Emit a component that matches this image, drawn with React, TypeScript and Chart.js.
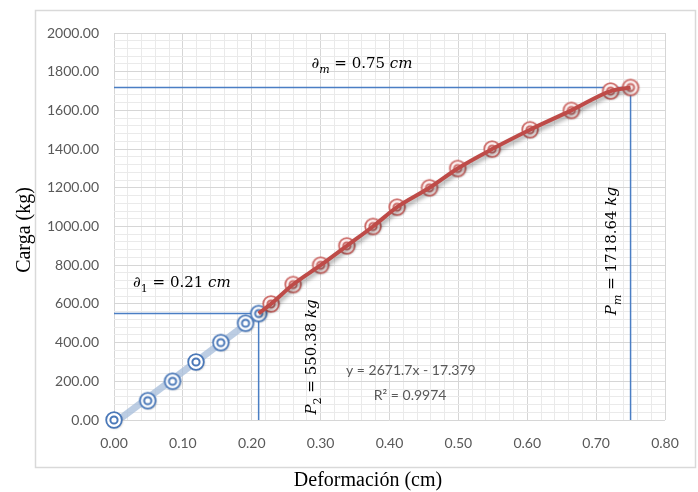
import React, { useEffect, useRef } from "react";
import { Chart, registerables } from "chart.js";

Chart.register(...registerables);

// Elastic range (blue) and plastic range (red) of the load test
const elasticDeformation = [0, 0.049, 0.085, 0.119, 0.155, 0.191, 0.21];
const elasticLoad = [0, 100, 200, 300, 400, 500, 550.38];
const plasticDeformation = [0.228, 0.26, 0.3, 0.338, 0.376, 0.411, 0.458, 0.499, 0.549, 0.604, 0.664, 0.721, 0.75];
const plasticLoad = [600, 700, 800, 900, 1000, 1100, 1200, 1300, 1400, 1500, 1600, 1700, 1718.64];

// Linear fit of the elastic range
const fitSlope = 2671.7;
const fitIntercept = -17.379;
const fitR2 = "0.9974";

// Key points
const yieldDeformation = 0.21;
const yieldLoad = 550.38;
const maxDeformation = 0.75;
const maxLoad = 1718.64;

// Axis tick labels
const xTickLabels = ["0.00", "0.10", "0.20", "0.30", "0.40", "0.50", "0.60", "0.70", "0.80"];
const yTickLabels = ["0.00", "200.00", "400.00", "600.00", "800.00", "1000.00", "1200.00", "1400.00", "1600.00", "1800.00", "2000.00"];

const MATH_FONT = '"DejaVu Serif"';
const TICK_FONT = "Lato";

function makeMarker(ring: string, fill: string): HTMLCanvasElement {
  const c = document.createElement("canvas");
  c.width = 24;
  c.height = 24;
  const g = c.getContext("2d")!;
  g.shadowColor = "rgba(0,0,0,0.25)";
  g.shadowBlur = 2;
  g.shadowOffsetX = 1;
  g.shadowOffsetY = 1;
  g.beginPath();
  g.arc(12, 12, 7.8, 0, Math.PI * 2);
  g.fillStyle = fill;
  g.fill();
  g.shadowColor = "transparent";
  g.lineWidth = 1.8;
  g.strokeStyle = ring;
  g.stroke();
  g.beginPath();
  g.arc(12, 12, 3.6, 0, Math.PI * 2);
  g.lineWidth = 2;
  g.stroke();
  return c;
}

type Run = { t: string; italic?: boolean; sub?: boolean };

function drawRuns(ctx: CanvasRenderingContext2D, runs: Run[], cx: number, cy: number, size: number, vertical = false) {
  const fontOf = (r: Run) => `${r.italic ? "italic " : ""}${r.sub ? Math.round(size * 0.72) : size}px ${MATH_FONT}`;
  let total = 0;
  const widths = runs.map((r) => {
    ctx.font = fontOf(r);
    const w = ctx.measureText(r.t).width;
    total += w;
    return w;
  });
  ctx.save();
  ctx.translate(cx, cy);
  if (vertical) ctx.rotate(-Math.PI / 2);
  ctx.fillStyle = "#000";
  ctx.textBaseline = "alphabetic";
  ctx.textAlign = "left";
  let x = -total / 2;
  const base = size * 0.35;
  runs.forEach((r, i) => {
    ctx.font = fontOf(r);
    ctx.fillText(r.t, x, base + (r.sub ? size * 0.3 : 0));
    x += widths[i];
  });
  ctx.restore();
}

const isMajorX = (v: number) => Math.round(v * 50) % 5 === 0;
const isMajorY = (v: number) => Math.round(v / 40) % 5 === 0;

const decorations = {
  id: "decorations",
  beforeDraw(chart: any) {
    const ctx = chart.ctx as CanvasRenderingContext2D;
    ctx.save();
    ctx.fillStyle = "#fff";
    ctx.fillRect(0, 0, chart.width, chart.height);
    ctx.strokeStyle = "#d9d9d9";
    ctx.lineWidth = 1.5;
    ctx.strokeRect(35.5, 10.5, 660, 457);
    ctx.restore();
  },
  beforeDatasetDraw(chart: any, args: any) {
    const ds = chart.data.datasets[args.index];
    if (ds.shadow) {
      const ctx = chart.ctx as CanvasRenderingContext2D;
      ctx.save();
      ctx.shadowColor = ds.shadow;
      ctx.shadowBlur = 4;
      ctx.shadowOffsetX = 1.5;
      ctx.shadowOffsetY = 3;
    }
  },
  afterDatasetDraw(chart: any, args: any) {
    const ds = chart.data.datasets[args.index];
    if (ds.shadow) chart.ctx.restore();
  },
  afterDraw(chart: any) {
    const ctx = chart.ctx as CanvasRenderingContext2D;
    const xs = chart.scales.x;
    const ys = chart.scales.y;
    const px = (v: number) => xs.getPixelForValue(v);
    const py = (v: number) => ys.getPixelForValue(v);

    drawRuns(ctx, [{ t: "∂", italic: true }, { t: "m", italic: true, sub: true }, { t: " = 0.75 " }, { t: "cm", italic: true }], px(0.36), py(1845), 15);
    drawRuns(ctx, [{ t: "∂", italic: true }, { t: "1", sub: true }, { t: " = 0.21 " }, { t: "cm", italic: true }], px(0.0985), py(713), 15);
    drawRuns(ctx, [{ t: "P", italic: true }, { t: "2", sub: true }, { t: " = 550.38 " }, { t: "kg", italic: true }], px(0.286), py(326), 15, true);
    drawRuns(ctx, [{ t: "P", italic: true }, { t: "m", italic: true, sub: true }, { t: " = 1718.64 " }, { t: "kg", italic: true }], px(0.7216), py(873), 15, true);

    ctx.save();
    ctx.fillStyle = "#595959";
    ctx.font = `14px ${TICK_FONT}`;
    ctx.textAlign = "center";
    ctx.textBaseline = "middle";
    const sign = fitIntercept < 0 ? "-" : "+";
    ctx.fillText(`y = ${fitSlope}x ${sign} ${Math.abs(fitIntercept)}`, px(0.431), py(258));
    ctx.fillText(`R² = ${fitR2}`, px(0.43), py(129));
    ctx.restore();

    ctx.save();
    ctx.fillStyle = "#000";
    ctx.font = '20px "Liberation Serif"';
    ctx.textAlign = "center";
    ctx.textBaseline = "middle";
    ctx.fillText("Deformación (cm)", 368, 481);
    ctx.translate(25, 230);
    ctx.rotate(-Math.PI / 2);
    ctx.fillText("Carga (kg)", 0, 0);
    ctx.restore();
  },
};

export default function App() {
  const ref = useRef<HTMLCanvasElement | null>(null);

  useEffect(() => {
    if (!ref.current) return;
    const blueMarker = makeMarker("#4a78b8", "#ffffff");
    const redMarker = makeMarker("rgba(196,84,80,0.85)", "#fdf3f3");
    const pts = (xs: number[], ys: number[]) => xs.map((x, i) => ({ x, y: ys[i] }));
    const fitStart = elasticDeformation[0];
    const fitEnd = elasticDeformation[elasticDeformation.length - 1];

    const chart = new Chart(ref.current, {
      type: "scatter",
      data: {
        datasets: [
          {
            label: "Ajuste plástico",
            data: pts([yieldDeformation, ...plasticDeformation], [yieldLoad, ...plasticLoad]),
            showLine: true,
            cubicInterpolationMode: "monotone",
            borderColor: "#be4b48",
            borderWidth: 4,
            pointRadius: 0,
            order: 1,
            shadow: "rgba(0,0,0,0.35)",
          } as any,
          {
            label: "Rango plástico",
            data: pts(plasticDeformation, plasticLoad),
            pointStyle: redMarker,
            pointRadius: 8,
            clip: false,
            order: 2,
          },
          {
            label: "Rango elástico",
            data: pts(elasticDeformation, elasticLoad),
            pointStyle: blueMarker,
            pointRadius: 8,
            clip: false,
            order: 2,
          },
          {
            label: "Ajuste lineal",
            data: [
              { x: fitStart, y: fitSlope * fitStart + fitIntercept },
              { x: fitEnd, y: fitSlope * fitEnd + fitIntercept },
            ],
            showLine: true,
            borderColor: "rgba(165,188,218,0.75)",
            borderWidth: 7,
            pointRadius: 0,
            order: 3,
          },
          {
            label: "Pm",
            data: [
              { x: 0, y: maxLoad },
              { x: maxDeformation, y: maxLoad },
              { x: maxDeformation, y: 0 },
            ],
            showLine: true,
            borderColor: "#4a7ec4",
            borderWidth: 1.5,
            pointRadius: 0,
            order: 4,
          },
          {
            label: "P2",
            data: [
              { x: 0, y: yieldLoad },
              { x: yieldDeformation, y: yieldLoad },
              { x: yieldDeformation, y: 0 },
            ],
            showLine: true,
            borderColor: "#4a7ec4",
            borderWidth: 1.5,
            pointRadius: 0,
            order: 4,
          },
        ],
      },
      options: {
        responsive: false,
        animation: false,
        layout: { padding: { left: 0, right: 33, top: 33, bottom: 0 } },
        plugins: { legend: { display: false }, tooltip: { enabled: false } },
        scales: {
          x: {
            type: "linear",
            min: 0,
            max: 0.8,
            afterFit: (s: any) => {
              s.height = 72;
            },
            border: { display: false },
            grid: {
              drawTicks: false,
              color: (c: any) => (c.tick && isMajorX(c.tick.value) ? "#d6d6d6" : "#eaeaea"),
            },
            ticks: {
              stepSize: 0.02,
              autoSkip: false,
              maxRotation: 0,
              padding: 15,
              color: "#595959",
              font: { family: TICK_FONT, size: 14 },
              callback: (v: any) => (isMajorX(Number(v)) ? xTickLabels[Math.round(Number(v) * 10)] : ""),
            },
          },
          y: {
            type: "linear",
            min: 0,
            max: 2000,
            afterFit: (s: any) => {
              s.width = 114;
            },
            border: { display: false },
            grid: {
              drawTicks: false,
              color: (c: any) => (c.tick && isMajorY(c.tick.value) ? "#d6d6d6" : "#eaeaea"),
            },
            ticks: {
              stepSize: 40,
              autoSkip: false,
              padding: 15,
              color: "#595959",
              font: { family: TICK_FONT, size: 14 },
              callback: (v: any) => (isMajorY(Number(v)) ? yTickLabels[Math.round(Number(v) / 200)] : ""),
            },
          },
        },
      },
      plugins: [decorations],
    });
    return () => chart.destroy();
  }, []);

  return (
    <div style={{ position: "fixed", left: 0, top: 0, width: 698, height: 492, background: "#fff" }}>
      <canvas ref={ref} width={698} height={492} style={{ display: "block", width: 698, height: 492 }} />
    </div>
  );
}
